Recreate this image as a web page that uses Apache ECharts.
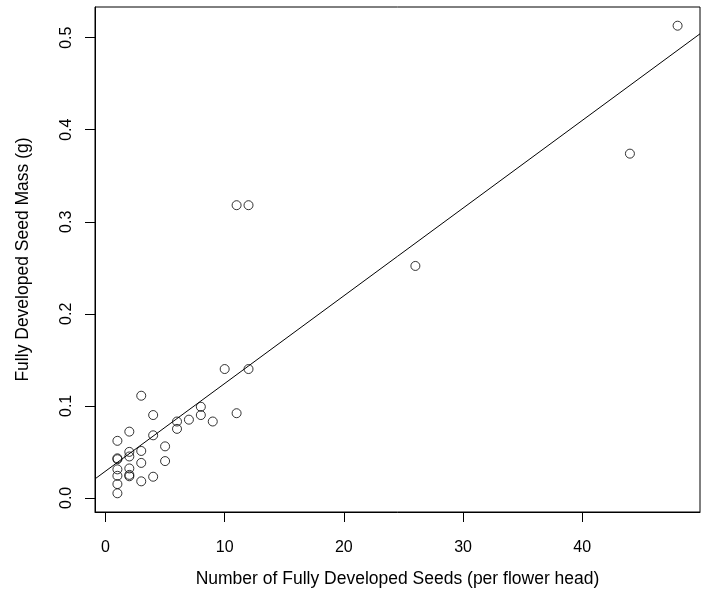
<!DOCTYPE html>
<html>
<head>
<meta charset="utf-8">
<script src="https://cdn.jsdelivr.net/npm/echarts@6/dist/echarts.min.js"></script>
<style>
  html, body { margin: 0; padding: 0; background: #fff; }
  #chart { width: 708px; height: 600px; }
</style>
</head>
<body>
<div id="chart"></div>
<script>
// seeds per flower head vs. seed mass
const seeds = [3, 4, 2, 1, 4, 6, 6, 7, 8, 8, 9, 11, 3, 5, 2, 2, 1, 1, 3, 5,
  1, 2, 1, 2, 2, 3, 4, 1, 1, 10, 12, 11, 12, 26, 44, 48]
const mass = [0.111, 0.090, 0.072, 0.062, 0.068, 0.083, 0.075, 0.085, 0.099, 0.090,
  0.083, 0.092, 0.051, 0.056, 0.050, 0.045, 0.043, 0.042, 0.038, 0.040,
  0.031, 0.032, 0.024, 0.025, 0.0235, 0.018, 0.023, 0.015, 0.005,
  0.140, 0.140, 0.318, 0.318, 0.252, 0.374, 0.513]
const xTicks = [0, 10, 20, 30, 40]
const yTicks = [0, 0.1, 0.2, 0.3, 0.4, 0.5]

// R style axis range: data range padded by 4% each side
function padRange(arr) {
  const lo = Math.min(...arr), hi = Math.max(...arr)
  const pad = (hi - lo) * 0.04
  return [lo - pad, hi + pad]
}

// least squares fit, like abline(lm(mass ~ seeds))
function fitLine(xs, ys) {
  const n = xs.length
  const mx = xs.reduce((a, b) => a + b, 0) / n
  const my = ys.reduce((a, b) => a + b, 0) / n
  let sxy = 0, sxx = 0
  xs.forEach((x, i) => {
    sxy += (x - mx) * (ys[i] - my)
    sxx += (x - mx) * (x - mx)
  })
  const slope = sxy / sxx
  return { slope, intercept: my - slope * mx }
}

const [xMin, xMax] = padRange(seeds)
const [yMin, yMax] = padRange(mass)
const fit = fitLine(seeds, mass)

const font = "Liberation Sans, Arial, Helvetica, sans-serif"
const chart = echarts.init(document.querySelector('#chart'))
chart.setOption({
  animation: false,
  grid: {
    left: 95, right: 8, top: 7, bottom: 88,
    show: true, borderColor: '#000', borderWidth: 1
  },
  xAxis: {
    type: 'value',
    min: xMin, max: xMax,
    name: 'Number of Fully Developed Seeds (per flower head)',
    nameLocation: 'middle',
    nameGap: 58,
    nameTextStyle: { fontSize: 17.5, color: '#000', fontFamily: font },
    axisLine: { show: true, onZero: false, lineStyle: { color: '#000', width: 1 } },
    axisTick: { show: true, length: 10, customValues: xTicks, lineStyle: { color: '#000' } },
    axisLabel: { customValues: xTicks, fontSize: 16, color: '#000', fontFamily: font, margin: 28 },
    splitLine: { show: false }
  },
  yAxis: {
    type: 'value',
    min: yMin, max: yMax,
    name: 'Fully Developed Seed Mass (g)',
    nameLocation: 'middle',
    nameGap: 63,
    nameTextStyle: { fontSize: 17.5, color: '#000', fontFamily: font },
    axisLine: { show: true, onZero: false, lineStyle: { color: '#000', width: 1 } },
    axisTick: { show: true, length: 10, customValues: yTicks, lineStyle: { color: '#000' } },
    axisLabel: {
      customValues: yTicks, rotate: 90, fontSize: 16, color: '#000', fontFamily: font, margin: 20,
      formatter: v => v.toFixed(1)
    },
    splitLine: { show: false }
  },
  series: [
    {
      type: 'scatter',
      data: seeds.map((x, i) => [x, mass[i]]),
      symbol: 'circle',
      symbolSize: 9,
      itemStyle: { color: 'rgba(0,0,0,0)', borderColor: '#000', borderWidth: 1 }
    },
    {
      type: 'line',
      data: [[xMin, fit.intercept + fit.slope * xMin], [xMax, fit.intercept + fit.slope * xMax]],
      symbol: 'none',
      clip: true,
      lineStyle: { color: '#000', width: 1 }
    }
  ]
})
</script>
</body>
</html>
